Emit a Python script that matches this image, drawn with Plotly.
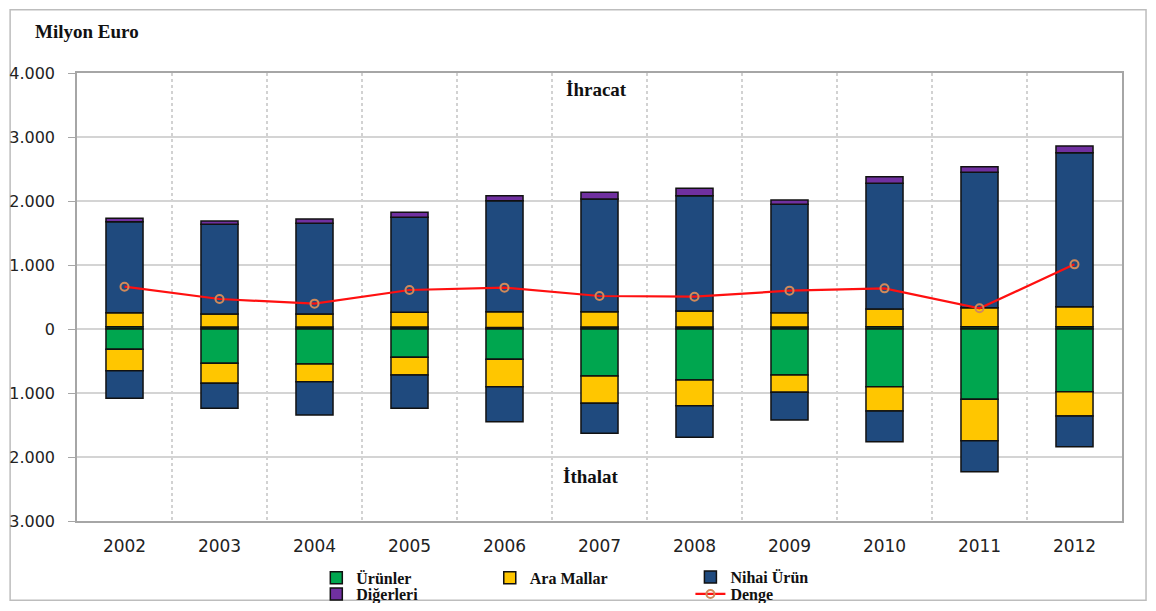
import plotly.graph_objects as go

years = ["2002", "2003", "2004", "2005", "2006", "2007", "2008", "2009", "2010", "2011", "2012"]

# Exports (İhracat) - positive stacked segments
exp_urunler = [35, 30, 30, 30, 25, 30, 30, 30, 36, 36, 36]
exp_ara = [220, 204, 204, 230, 246, 241, 251, 225, 276, 297, 313]
exp_nihai = [1422, 1401, 1417, 1485, 1734, 1760, 1802, 1693, 1964, 2115, 2406]
exp_diger = [53, 53, 68, 78, 78, 104, 115, 68, 104, 88, 104]

# Imports (İthalat) - negative stacked segments
imp_urunler = [-317, -536, -547, -443, -474, -734, -797, -719, -901, -1099, -979]
imp_ara = [-334, -313, -276, -276, -427, -427, -401, -271, -380, -646, -380]
imp_nihai = [-432, -391, -521, -521, -547, -469, -495, -432, -479, -484, -480]

# Balance (Denge)
denge = [661, 469, 396, 609, 646, 516, 505, 599, 635, 323, 1010]

y_tickvals = [4000, 3000, 2000, 1000, 0, -1000, -2000, -3000]
y_ticktext = ["4.000", "3.000", "2.000", "1.000", "0", "1.000", "2.000", "3.000"]

C_GREEN = "#00a64f"
C_YELLOW = "#ffc600"
C_BLUE = "#1f4a7e"
C_PURPLE = "#7030a0"
EDGE = dict(color="#111111", width=1.5)

fig = go.Figure()

fig.add_trace(go.Bar(x=years, y=exp_urunler, name="Ürünler", marker=dict(color=C_GREEN, line=EDGE),
                     legendgroup="g", legend="legend"))
fig.add_trace(go.Bar(x=years, y=exp_ara, name="Ara Mallar", marker=dict(color=C_YELLOW, line=EDGE),
                     legendgroup="y", legend="legend2"))
fig.add_trace(go.Bar(x=years, y=exp_nihai, name="Nihai Ürün", marker=dict(color=C_BLUE, line=EDGE),
                     legendgroup="b", legend="legend3"))
fig.add_trace(go.Bar(x=years, y=exp_diger, name="Diğerleri", marker=dict(color=C_PURPLE, line=EDGE),
                     legendgroup="p", legend="legend4"))
fig.add_trace(go.Bar(x=years, y=imp_urunler, name="Ürünler", marker=dict(color=C_GREEN, line=EDGE),
                     legendgroup="g", showlegend=False))
fig.add_trace(go.Bar(x=years, y=imp_ara, name="Ara Mallar", marker=dict(color=C_YELLOW, line=EDGE),
                     legendgroup="y", showlegend=False))
fig.add_trace(go.Bar(x=years, y=imp_nihai, name="Nihai Ürün", marker=dict(color=C_BLUE, line=EDGE),
                     legendgroup="b", showlegend=False))
fig.add_trace(go.Scatter(x=years, y=denge, name="Denge", mode="lines+markers",
                         line=dict(color="#ff1010", width=2.2),
                         marker=dict(symbol="circle-open", size=8, color="#d08a5a", line=dict(width=2)),
                         legend="legend5"))

leg_font = dict(family="Liberation Serif", size=16, color="#111111", weight="bold")
serif_bold = dict(family="Liberation Serif", size=19, color="#111111", weight="bold")


def leg(x, y):
    return dict(x=x, y=y, xanchor="left", yanchor="middle", orientation="v",
                font=leg_font, tracegroupgap=0, bgcolor="rgba(0,0,0,0)")


# plot area: screen x 77..1122, y 73..521 (page is offset by 8px)
fig.update_layout(
    width=1140, height=595,
    margin=dict(l=69, r=26, t=65, b=82, autoexpand=False),
    paper_bgcolor="white", plot_bgcolor="white",
    barmode="relative", bargap=0.61,
    font=dict(family="DejaVu Sans", size=15, color="#222222"),
    legend=leg(0.229, -0.127),
    legend4=leg(0.229, -0.163),
    legend2=leg(0.395, -0.127),
    legend3=leg(0.587, -0.125),
    legend5=leg(0.587, -0.163),
    xaxis=dict(type="category", range=[-0.5, 10.5], tickson="boundaries", showgrid=True,
               gridcolor="#d2d2d2", griddash="dot", gridwidth=1.5, ticks="", showline=True,
               linecolor="#a6a6a6", linewidth=1.5, mirror=True, automargin=False,
               tickfont=dict(size=17, color="#222222"), tickangle=0, ticklabelstandoff=9),
    yaxis=dict(range=[-3000, 4000], tickvals=y_tickvals, ticktext=y_ticktext, automargin=False,
               showgrid=True, gridcolor="#d4d4d4", gridwidth=1.5, zeroline=False,
               ticks="outside", ticklen=7, tickcolor="#a6a6a6", showline=True,
               linecolor="#a6a6a6", linewidth=1.5, mirror=True,
               tickfont=dict(size=16, color="#222222"), ticklabelstandoff=10),
    annotations=[
        dict(text="Milyon Euro", xref="paper", yref="paper", x=-0.0425, y=1.092,
             xanchor="left", yanchor="middle", showarrow=False, font=serif_bold),
        dict(text="İhracat", xref="x", yref="y", x=5, y=3740, xshift=-3,
             showarrow=False, font=serif_bold),
        dict(text="İthalat", xref="x", yref="y", x=5, y=-2310, xshift=-9,
             showarrow=False, font=serif_bold),
    ],
    shapes=[
        dict(type="rect", xref="paper", yref="paper", x0=-0.064, x1=1.023, y0=-0.177, y1=1.141,
             line=dict(color="#bdbdbd", width=1.5), fillcolor="rgba(0,0,0,0)", layer="below"),
    ],
)

fig.write_html("out.html")
